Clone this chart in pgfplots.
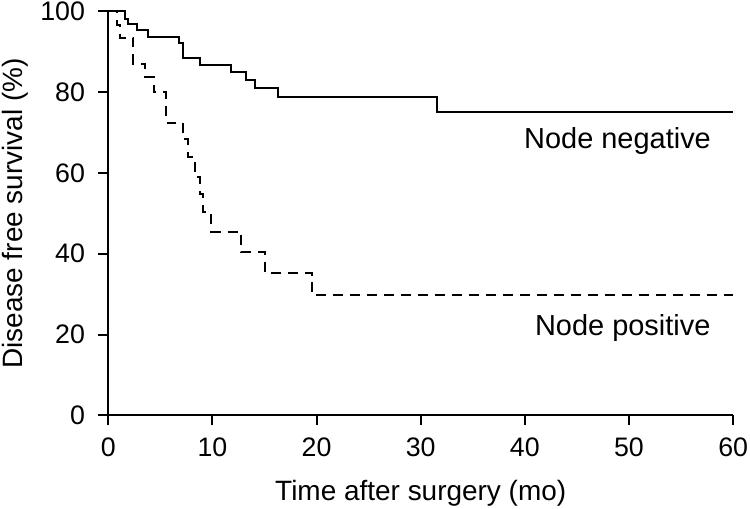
\documentclass[border=0pt]{standalone}
\usepackage{pgfplots}
\pgfplotsset{compat=1.18}
\usepackage{fontspec}
\setmainfont{Liberation Sans}
\begin{document}
\fontsize{12}{14}\selectfont
\begin{tikzpicture}
\begin{axis}[
  scale only axis,
  width=313pt, height=202.3pt,
  xmin=0, xmax=60, ymin=0, ymax=100,
  axis lines=left,
  axis line style={-, line width=1pt},
  xtick={0,10,...,60}, ytick={0,20,...,100},
  tick align=outside, major tick length=5pt,
  tick style={line width=1pt, black},
  /pgf/number format/assume math mode=true,
  tick label style={font=\fontsize{13.4}{15}\selectfont, inner sep=1pt},
  xticklabel style={yshift=-5pt},
  yticklabel style={xshift=-5.5pt},
  label style={font=\fontsize{14}{16}\selectfont},
  xlabel={Time after surgery (mo)},
  ylabel={Disease free survival (\%)},
  xlabel style={at={(axis description cs:0.5,0)}, anchor=base, yshift=-42.6pt, inner sep=1pt},
  ylabel style={at={(axis description cs:0,0.5)}, anchor=south, yshift=39pt, inner sep=1pt},
  clip=false,
]
\addplot[const plot, black, line width=1pt] coordinates {
(0,100) (1.6,98.2) (1.9,97.0) (2.8,95.5) (3.8,93.6) (6.8,92.2) (7.2,88.4)
(8.8,86.8) (11.8,85.0) (13.2,83.1) (14.1,81.0) (16.3,78.8) (31.6,75.2) (60,75.2)};
\addplot[const plot, black, line width=1pt, dash pattern=on 5pt off 3.5pt] coordinates {
(0,100) (0.8,96.7) (1.1,93.5) (2.4,87.1) (3.55,83.7) (4.35,80.0) (5.55,72.4)
(7.2,68.3) (7.7,63.9) (8.35,59.0) (8.8,54.9) (9.1,50.3) (9.9,45.5) (12.75,40.4)
(15.05,35.2) (19.6,29.7) (60,29.7)};
\node[font=\fontsize{14.5}{16}\selectfont] at (axis cs:48.9,67.9) {Node negative};
\node[font=\fontsize{14.5}{16}\selectfont] at (axis cs:49.4,21.6) {Node positive};
\end{axis}
\end{tikzpicture}
\end{document}
